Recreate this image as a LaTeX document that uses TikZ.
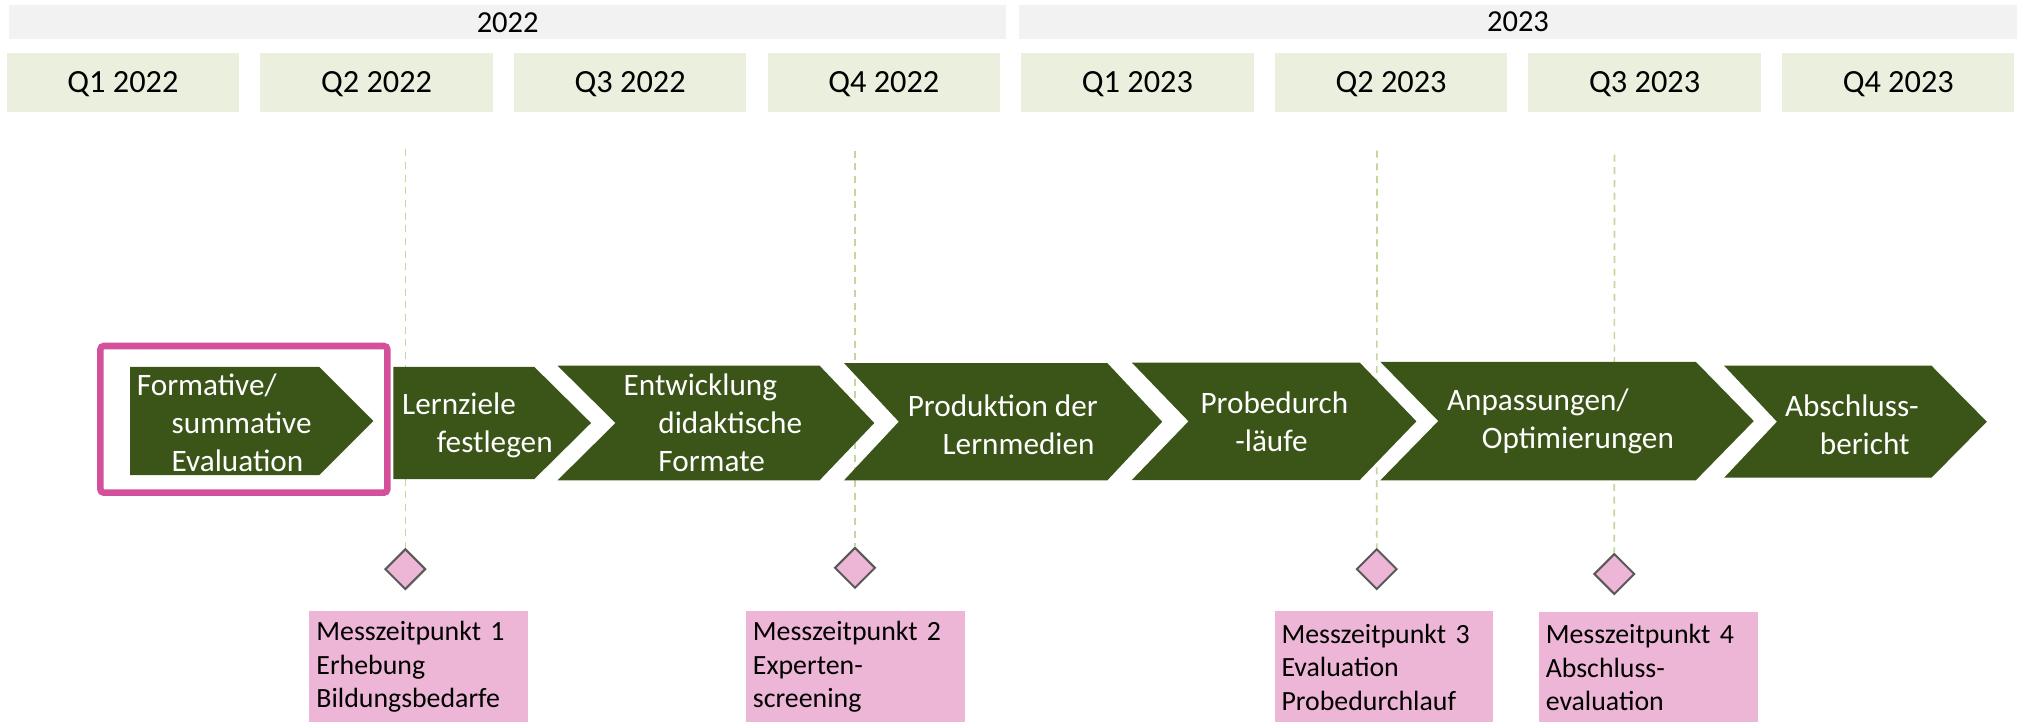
\documentclass[tikz,border=0pt]{standalone}
\usepackage{fontspec}
\setmainfont{Carlito}
\usetikzlibrary{shapes.geometric, positioning}

\definecolor{phasegreen}{HTML}{3B5418}
\definecolor{quartergreen}{HTML}{EBF0DE}
\definecolor{yeargray}{HTML}{F2F2F2}
\definecolor{notepink}{HTML}{EEB6D6}
\definecolor{framepink}{HTML}{D4509A}
\definecolor{linegreen}{HTML}{C3D69B}
\definecolor{diamondgray}{HTML}{595959}

\newcommand{\ind}{\hspace*{0.54cm}}

\begin{document}
\begin{tikzpicture} [x=0.02cm, y=-0.02cm, node distance=3.94cm, align=left,
	year/.style={fill=yeargray, minimum width=15.49cm, minimum height=0.53cm, inner sep=0pt, font=\fontsize{13.5}{16}\selectfont},
	quarter/.style={fill=quartergreen, minimum width=3.61cm, minimum height=0.906cm, inner sep=0pt, text depth=0pt, font=\fontsize{14.3}{17}\selectfont},
	phase/.style={fill=phasegreen},
	label/.style={text=white, anchor=west, inner sep=0pt, font=\fontsize{13.8}{16.8}\selectfont},
	guide/.style={draw=linegreen, line width=0.75pt, dash pattern=on 3.1pt off 2.5pt},
	milestone/.style={diamond, fill=notepink, draw=diamondgray, line width=0.9pt, minimum width=0.632cm, minimum height=0.632cm, inner sep=0pt},
	note/.style={fill=notepink, anchor=north west, minimum width=3.4cm, minimum height=1.73cm, text width=3.184cm, inner xsep=0.108cm, inner ysep=0pt, font=\fontsize{12.3}{14.8}\selectfont},
	focus/.style={draw=framepink, line width=2.9pt, rounded corners=1.5pt}]

\useasboundingbox (0,0) rectangle (1568,560.7);

\node[year]	(year_2022)	at (394.3,17.3)	{2022};
\node[year]	(year_2023)	at (1178.9,16.8)	{2023};

\node[quarter]	(q1_2022)	at (95.5,64)	{Q1 2022};
\node[quarter]	(q2_2022)	[right of=q1_2022]	{Q2 2022};
\node[quarter]	(q3_2022)	[right of=q2_2022]	{Q3 2022};
\node[quarter]	(q4_2022)	[right of=q3_2022]	{Q4 2022};
\node[quarter]	(q1_2023)	[right of=q4_2022]	{Q1 2023};
\node[quarter]	(q2_2023)	[right of=q1_2023]	{Q2 2023};
\node[quarter]	(q3_2023)	[right of=q2_2023]	{Q3 2023};
\node[quarter]	(q4_2023)	[right of=q3_2023]	{Q4 2023};

\coordinate (top_1) at (314.8,116);
\coordinate (top_2) at (664,117);
\coordinate (top_3) at (1069.4,117);
\coordinate (top_4) at (1253.8,120);

\node[milestone]	(ms_1)	at (314.8,442)	{};
\node[milestone]	(ms_2)	at (664,441)	{};
\node[milestone]	(ms_3)	at (1069.2,442)	{};
\node[milestone]	(ms_4)	at (1253.7,445.8)	{};

\draw[guide] (top_1) -- (ms_1.north);
\draw[guide] (top_2) -- (ms_2.north);
\draw[guide] (top_3) -- (ms_3.north);
\draw[guide] (top_4) -- (ms_4.north);

\fill[phase] (101,285) -- (248,285) -- (290,327) -- (248,369) -- (101,369) -- cycle;
\fill[phase] (305.5,285) -- (415,285) -- (459,328.5) -- (415,372) -- (305.5,372) -- cycle;
\fill[phase] (433,284) -- (636.5,284) -- (679,328.5) -- (636.5,373) -- (433,373) -- (478,328.5) -- cycle;
\fill[phase] (655.5,282) -- (860,282) -- (902.6,327.5) -- (860,373) -- (655.5,373) -- (698,327.5) -- cycle;
\fill[phase] (879,281.6) -- (1056,281.6) -- (1100,327.2) -- (1056,372.8) -- (879,372.8) -- (923,327.2) -- cycle;
\fill[phase] (1072,281) -- (1317,281) -- (1362,327) -- (1317,373) -- (1072,373) -- (1117,327) -- cycle;
\fill[phase] (1339,284) -- (1500,284) -- (1543,327.5) -- (1500,371) -- (1339,371) -- (1380,327.5) -- cycle;

\draw[focus] (78,268.7) rectangle (300.8,382.6);

\node[label]	(formative)	at (106,328)	{Formative/\\\ind summative\\\ind Evaluation};
\node[label]	(lernziele)	at (312,330)	{Lernziele\\\ind festlegen};
\node[label]	(entwicklung)	at (484,328)	{Entwicklung\\\ind didaktische\\\ind Formate};
\node[label]	(produktion)	at (704.7,330)	{Produktion der\\\ind Lernmedien};
\node[label]	(probedurch)	at (932,327.5)	{Probedurch\\\ind -läufe};
\node[label]	(anpassungen)	at (1123.5,327.5)	{Anpassungen/\\\ind Optimierungen};
\node[label]	(abschluss)	at (1386,330)	{Abschluss-\\\ind bericht};

\node[note]	(mz_1)	at (240,474.5)	{Messzeitpunkt 1\\Erhebung\\Bildungsbedarfe};
\node[note]	(mz_2)	at (579,474.5)	{Messzeitpunkt 2\\Experten-\\screening};
\node[note]	(mz_3)	at (989.5,474.5)	{Messzeitpunkt 3\\Evaluation\\Probedurchlauf};
\node[note]	(mz_4)	at (1194.7,475)	{Messzeitpunkt 4\\Abschluss-\\evaluation};

\end{tikzpicture}
\end{document}
